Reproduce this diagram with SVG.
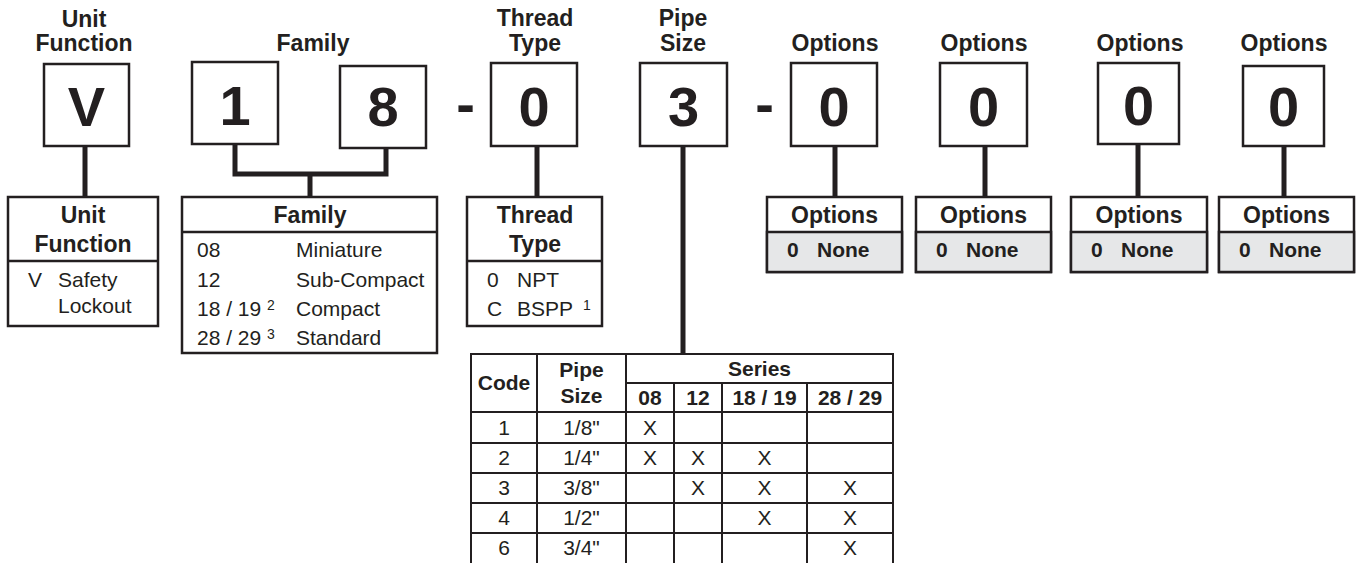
<svg xmlns="http://www.w3.org/2000/svg" width="1361" height="563" viewBox="0 0 1361 563">
<style>
text{font-family:"Liberation Sans",Arial,sans-serif;fill:#231f20}
.lbl{font-size:23px;font-weight:bold;text-anchor:middle}
.big{font-size:56px;font-weight:bold;text-anchor:middle}
.body{font-size:21px}
.bb{font-size:21px;font-weight:bold}
.c{text-anchor:middle}
.sup{font-size:14px}
.box{fill:#fff;stroke:#231f20;stroke-width:2.5}
.gray{fill:#e6e7e8;stroke:#231f20;stroke-width:2.5}
.div{stroke:#231f20;stroke-width:2.5}
.conn{fill:none;stroke:#231f20;stroke-width:5}
.tl{stroke:#231f20;stroke-width:2;fill:none}
</style>
<rect width="1361" height="563" fill="#fff"/>

<g id="connectors">
<path class="conn" d="M85 146V198"/>
<path class="conn" d="M235 144V174H386V148M310 174V198"/>
<path class="conn" d="M537 146V198"/>
<path class="conn" d="M683 146V354"/>
<path class="conn" d="M835 146V198"/>
<path class="conn" d="M985 146V198"/>
<path class="conn" d="M1138 144V198"/>
<path class="conn" d="M1284 146V198"/>
</g>

<g id="top-labels">
<text class="lbl" x="84" y="27">Unit</text>
<text class="lbl" x="84" y="51">Function</text>
<text class="lbl" x="313" y="51">Family</text>
<text class="lbl" x="535" y="26">Thread</text>
<text class="lbl" x="535" y="51">Type</text>
<text class="lbl" x="683" y="26">Pipe</text>
<text class="lbl" x="683" y="51">Size</text>
<text class="lbl" x="835" y="51">Options</text>
<text class="lbl" x="984" y="51">Options</text>
<text class="lbl" x="1140" y="51">Options</text>
<text class="lbl" x="1284" y="51">Options</text>
</g>

<g id="code-V"><rect class="box" x="44" y="64" width="85" height="82"/><text class="big" x="86.5" y="126">V</text></g>
<g id="code-1"><rect class="box" x="192" y="62" width="86" height="82"/><text class="big" x="235" y="125">1</text></g>
<g id="code-8"><rect class="box" x="340" y="66" width="86" height="82"/><text class="big" x="383" y="126">8</text></g>
<text class="big" x="465.5" y="123">-</text>
<g id="code-thread"><rect class="box" x="491" y="63" width="86" height="83"/><text class="big" x="534" y="126">0</text></g>
<g id="code-pipe"><rect class="box" x="640" y="63" width="87" height="83"/><text class="big" x="683.5" y="126">3</text></g>
<text class="big" x="764.5" y="123">-</text>
<g id="code-opt1"><rect class="box" x="791" y="63" width="86" height="83"/><text class="big" x="834" y="126">0</text></g>
<g id="code-opt2"><rect class="box" x="940" y="63" width="87" height="83"/><text class="big" x="983.5" y="126">0</text></g>
<g id="code-opt3"><rect class="box" x="1098" y="63" width="81" height="81"/><text class="big" x="1138.5" y="125">0</text></g>
<g id="code-opt4"><rect class="box" x="1243" y="66" width="81" height="80"/><text class="big" x="1283.5" y="126">0</text></g>

<g id="unit-function">
<rect class="box" x="8" y="197" width="150" height="129"/>
<line class="div" x1="8" y1="261" x2="158" y2="261"/>
<text class="lbl" x="83" y="223">Unit</text>
<text class="lbl" x="83" y="252">Function</text>
<text class="body" x="28" y="287">V</text>
<text class="body" x="58" y="287">Safety</text>
<text class="body" x="58" y="313">Lockout</text>
</g>

<g id="family">
<rect class="box" x="182" y="197" width="255" height="156"/>
<line class="div" x1="182" y1="232" x2="437" y2="232"/>
<text class="lbl" x="310" y="223">Family</text>
<text class="body" x="197" y="257">08</text>
<text class="body" x="296" y="257">Miniature</text>
<text class="body" x="197" y="287">12</text>
<text class="body" x="296" y="287">Sub-Compact</text>
<text class="body" x="197" y="316">18 / 19</text>
<text class="sup" x="267" y="310">2</text>
<text class="body" x="296" y="316">Compact</text>
<text class="body" x="197" y="345">28 / 29</text>
<text class="sup" x="267" y="339">3</text>
<text class="body" x="296" y="345">Standard</text>
</g>

<g id="thread-type">
<rect class="box" x="467" y="197" width="135" height="129"/>
<line class="div" x1="467" y1="261" x2="602" y2="261"/>
<text class="lbl" x="535" y="223">Thread</text>
<text class="lbl" x="535" y="252">Type</text>
<text class="body" x="487" y="287">0</text>
<text class="body" x="517" y="287">NPT</text>
<text class="body" x="487" y="316">C</text>
<text class="body" x="517" y="316">BSPP</text>
<text class="sup" x="583" y="310">1</text>
</g>

<g id="options-1">
<rect class="box" x="767" y="197" width="135" height="75"/>
<rect class="gray" x="767" y="232" width="135" height="40"/>
<text class="lbl" x="834.5" y="223">Options</text>
<text class="bb" x="787" y="257">0</text>
<text class="bb" x="817" y="257">None</text>
</g>
<g id="options-2">
<rect class="box" x="916" y="197" width="135" height="75"/>
<rect class="gray" x="916" y="232" width="135" height="40"/>
<text class="lbl" x="983.5" y="223">Options</text>
<text class="bb" x="936" y="257">0</text>
<text class="bb" x="966" y="257">None</text>
</g>
<g id="options-3">
<rect class="box" x="1071" y="197" width="136" height="75"/>
<rect class="gray" x="1071" y="232" width="136" height="40"/>
<text class="lbl" x="1139" y="223">Options</text>
<text class="bb" x="1091" y="257">0</text>
<text class="bb" x="1121" y="257">None</text>
</g>
<g id="options-4">
<rect class="box" x="1219" y="197" width="135" height="75"/>
<rect class="gray" x="1219" y="232" width="135" height="40"/>
<text class="lbl" x="1286.5" y="223">Options</text>
<text class="bb" x="1239" y="257">0</text>
<text class="bb" x="1269" y="257">None</text>
</g>

<g id="pipe-size-table">
<path class="tl" d="M471 354H893M626 383H893M471 412H893M471 443H893M471 473H893M471 503H893M471 533H893"/>
<path class="tl" d="M471 353V563M537 354V563M626 354V563M674 383V563M722 383V563M807 383V563M893 353V563"/>
<text class="bb c" x="504" y="390">Code</text>
<text class="bb c" x="581.5" y="377">Pipe</text>
<text class="bb c" x="581.5" y="403">Size</text>
<text class="bb c" x="759.5" y="376">Series</text>
<text class="bb c" x="650" y="405">08</text>
<text class="bb c" x="698" y="405">12</text>
<text class="bb c" x="764.5" y="405">18 / 19</text>
<text class="bb c" x="850" y="405">28 / 29</text>
<g class="body">
<text class="body c" x="504" y="435">1</text><text class="body c" x="581.5" y="435">1/8"</text><text class="body c" x="650" y="435">X</text>
<text class="body c" x="504" y="465">2</text><text class="body c" x="581.5" y="465">1/4"</text><text class="body c" x="650" y="465">X</text><text class="body c" x="698" y="465">X</text><text class="body c" x="764.5" y="465">X</text>
<text class="body c" x="504" y="495">3</text><text class="body c" x="581.5" y="495">3/8"</text><text class="body c" x="698" y="495">X</text><text class="body c" x="764.5" y="495">X</text><text class="body c" x="850" y="495">X</text>
<text class="body c" x="504" y="525">4</text><text class="body c" x="581.5" y="525">1/2"</text><text class="body c" x="764.5" y="525">X</text><text class="body c" x="850" y="525">X</text>
<text class="body c" x="504" y="555">6</text><text class="body c" x="581.5" y="555">3/4"</text><text class="body c" x="850" y="555">X</text>
</g>
</g>
</svg>
